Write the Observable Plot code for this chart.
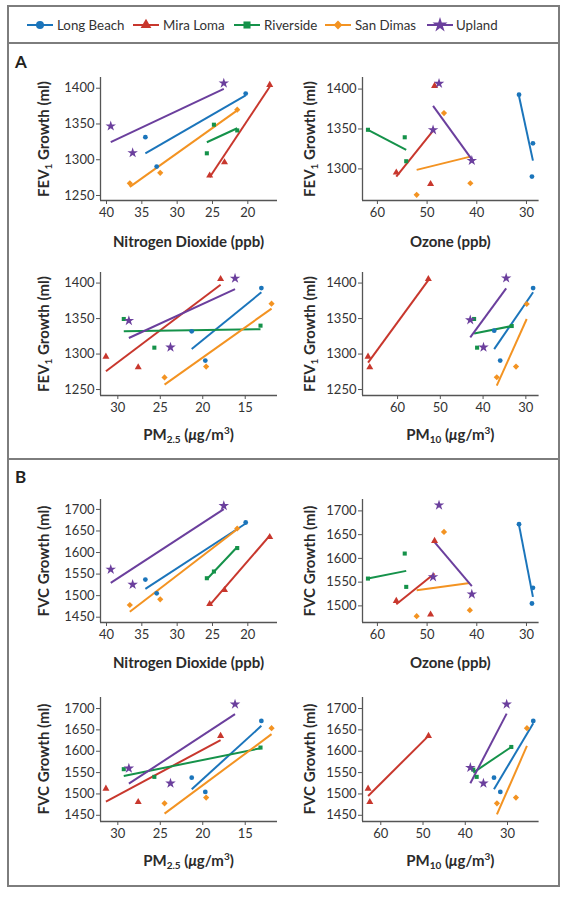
<!DOCTYPE html>
<html><head><meta charset="utf-8">
<script src="https://cdn.jsdelivr.net/npm/d3@7"></script>
<script src="https://cdn.jsdelivr.net/npm/@observablehq/plot@0.6"></script>
<style>
body{margin:0;background:#fff;}
#root{position:relative;width:569px;height:900px;font-family:Lato,sans-serif;color:#231f20;overflow:hidden;}
.frame{position:absolute;left:7px;top:5px;width:549px;height:878px;border:2px solid #7d7d7d;}
.hline{position:absolute;left:7px;width:553px;height:2px;background:#7d7d7d;}
.tag{position:absolute;font-weight:700;font-size:17px;}
.xt{position:absolute;font-weight:700;font-size:15px;white-space:nowrap;transform:translate(-50%,-50%);color:#2b2b2b;}
.yt{position:absolute;font-weight:700;font-size:15px;white-space:nowrap;transform:translate(-50%,-50%) rotate(-90deg);color:#2b2b2b;}
sub{font-size:10px;vertical-align:-3px;line-height:0;}
sup{font-size:10px;vertical-align:6px;line-height:0;}
.legsw{position:absolute;top:16px;}
.legtx{position:absolute;top:15px;font-size:13.3px;white-space:nowrap;line-height:20px;color:#333;}
</style></head><body><div id="root"></div>
<script>
const cities = ["Long Beach","Mira Loma","Riverside","San Dimas","Upland"];
const cityColors = ["#1b75bb","#c8372d","#15924a","#f39322","#6b3f9d"];
const citySymbols = ["circle","triangle","square","diamond2","star"];

const no2Ticks = [40,35,30,25,20];
const o3Ticks = [60,50,40,30];
const pm25Ticks = [30,25,20,15];
const pm10Ticks = [60,50,40,30];
const fevTicks = [1250,1300,1350,1400];
const fevTicksO3 = [1300,1350,1400];
const fvcTicks = [1450,1500,1550,1600,1650,1700];
const fvcTicksO3 = [1500,1550,1600,1650,1700];

// [city, x, y]
const fev_no2_pts = [
 ["Long Beach",34.5,1331.5],["Long Beach",32.9,1290.5],["Long Beach",20.3,1392.5],
 ["Mira Loma",25.4,1278],["Mira Loma",23.3,1296.6],["Mira Loma",16.9,1404.7],
 ["Riverside",25.8,1309],["Riverside",24.8,1349],["Riverside",21.5,1341],
 ["San Dimas",36.7,1267],["San Dimas",32.4,1281.7],["San Dimas",21.5,1370],
 ["Upland",39.4,1347],["Upland",36.3,1309.6],["Upland",23.4,1407]];
// [city, x1, y1, x2, y2]
const fev_no2_fit = [
 ["Long Beach",34.5,1309,20.3,1390],["Mira Loma",25.4,1275.6,16.9,1402],
 ["Riverside",25.8,1324.5,21.5,1344],["San Dimas",36.7,1262,21.5,1369],
 ["Upland",39.4,1324.5,23.4,1399]];

const fev_o3_pts = [
 ["Long Beach",31.5,1393],["Long Beach",28.7,1332],["Long Beach",28.9,1290.4],
 ["Mira Loma",56.2,1295.4],["Mira Loma",49.3,1281],["Mira Loma",48.5,1404],
 ["Riverside",61.9,1349],["Riverside",54.5,1339.6],["Riverside",54.2,1309.6],
 ["San Dimas",52.1,1267.5],["San Dimas",46.6,1370],["San Dimas",41.3,1282],
 ["Upland",47.6,1407],["Upland",48.8,1348.8],["Upland",41.0,1310.4]];
const fev_o3_fit = [
 ["Long Beach",31.5,1391,28.7,1310.4],["Mira Loma",56.2,1290.4,48.5,1350],
 ["Riverside",61.9,1349,54.2,1323.8],["San Dimas",52.1,1298.8,41.3,1315.4],
 ["Upland",48.8,1379,41.0,1312]];

const fev_pm25_pts = [
 ["Long Beach",21.3,1332],["Long Beach",19.7,1290.8],["Long Beach",13.1,1393],
 ["Mira Loma",31.4,1296.4],["Mira Loma",27.6,1281.4],["Mira Loma",17.9,1405.6],
 ["Riverside",29.3,1349.4],["Riverside",25.7,1309],["Riverside",13.2,1340],
 ["San Dimas",24.5,1267],["San Dimas",19.6,1282.3],["San Dimas",11.9,1371],
 ["Upland",28.7,1347],["Upland",23.8,1309.5],["Upland",16.2,1406.6]];
const fev_pm25_fit = [
 ["Long Beach",21.3,1307,13.1,1387],["Mira Loma",31.4,1275.8,17.9,1397.7],
 ["Riverside",29.3,1332,13.2,1335],["San Dimas",24.5,1257,11.9,1364],
 ["Upland",28.7,1322.6,16.2,1391.6]];

const fev_pm10_pts = [
 ["Long Beach",37.4,1333],["Long Beach",36.0,1290.8],["Long Beach",28.3,1393],
 ["Mira Loma",66.9,1296.4],["Mira Loma",66.5,1281.4],["Mira Loma",52.8,1405.6],
 ["Riverside",42.1,1349.4],["Riverside",41.4,1309],["Riverside",33.3,1339.5],
 ["San Dimas",36.8,1267.3],["San Dimas",32.3,1282.3],["San Dimas",29.8,1370.5],
 ["Upland",43.0,1348],["Upland",39.9,1309.5],["Upland",34.6,1407]];
const fev_pm10_fit = [
 ["Long Beach",37.4,1307,28.3,1387],["Mira Loma",66.9,1288,52.8,1404.2],
 ["Riverside",42.1,1329,33.3,1339.5],["San Dimas",36.8,1255.6,29.8,1349.4],
 ["Upland",43.0,1323.6,34.6,1392.5]];

const fvc_no2_pts = [
 ["Long Beach",34.5,1537.3],["Long Beach",32.9,1505.4],["Long Beach",20.3,1669.7],
 ["Mira Loma",25.4,1480.6],["Mira Loma",23.3,1513],["Mira Loma",16.9,1636],
 ["Riverside",25.8,1540.4],["Riverside",24.8,1556],["Riverside",21.5,1610.4],
 ["San Dimas",36.7,1478.3],["San Dimas",32.4,1491.4],["San Dimas",21.5,1655.7],
 ["Upland",39.4,1560.7],["Upland",36.3,1525.7],["Upland",23.4,1708.4]];
const fvc_no2_fit = [
 ["Long Beach",34.5,1515.6,20.3,1667.3],["Mira Loma",25.4,1478,16.9,1639],
 ["Riverside",25.8,1538,21.5,1612.7],["San Dimas",36.7,1462.7,21.5,1654],
 ["Upland",39.4,1529.6,23.4,1700.7]];

const fvc_o3_pts = [
 ["Long Beach",31.5,1672],["Long Beach",28.7,1538],["Long Beach",28.9,1505],
 ["Mira Loma",56.2,1510.5],["Mira Loma",49.3,1481.8],["Mira Loma",48.5,1636.8],
 ["Riverside",61.9,1557.5],["Riverside",54.5,1610.2],["Riverside",54.2,1540],
 ["San Dimas",52.1,1478.2],["San Dimas",46.6,1655.8],["San Dimas",41.4,1491],
 ["Upland",47.6,1712],["Upland",48.8,1561],["Upland",41.0,1524.6]];
const fvc_o3_fit = [
 ["Long Beach",31.5,1670,28.7,1519],["Mira Loma",56.2,1503.5,48.5,1568],
 ["Riverside",61.9,1557.5,54.2,1573.7],["San Dimas",52.1,1533,41.4,1548.4],
 ["Upland",48.8,1638,41.0,1541.4]];

const fvc_pm25_pts = [
 ["Long Beach",21.3,1538],["Long Beach",19.7,1504.7],["Long Beach",13.1,1671],
 ["Mira Loma",31.4,1512.5],["Mira Loma",27.6,1481.3],["Mira Loma",17.9,1636],
 ["Riverside",29.3,1558],["Riverside",25.7,1540],["Riverside",13.2,1608.6],
 ["San Dimas",24.5,1478],["San Dimas",19.6,1491.4],["San Dimas",11.9,1654],
 ["Upland",28.7,1560],["Upland",23.8,1525],["Upland",16.2,1710]];
const fvc_pm25_fit = [
 ["Long Beach",21.3,1511,13.1,1659.4],["Mira Loma",31.4,1482,17.9,1626],
 ["Riverside",29.3,1542,13.2,1607],["San Dimas",24.5,1454,11.9,1640],
 ["Upland",28.7,1524,16.2,1686.7]];

const fvc_pm10_pts = [
 ["Long Beach",33.2,1538],["Long Beach",31.7,1504.7],["Long Beach",23.9,1671],
 ["Mira Loma",63.0,1512.5],["Mira Loma",62.6,1481],["Mira Loma",48.7,1636],
 ["Riverside",38.1,1557],["Riverside",37.3,1540],["Riverside",29.1,1610],
 ["San Dimas",32.5,1478],["San Dimas",28.0,1491.4],["San Dimas",25.4,1654],
 ["Upland",38.8,1561.7],["Upland",35.7,1525],["Upland",30.2,1710]];
const fvc_pm10_fit = [
 ["Long Beach",33.2,1511,23.9,1665.6],["Mira Loma",63.0,1495.3,48.7,1636],
 ["Riverside",38.1,1550,29.1,1610],["San Dimas",32.5,1452,25.4,1612.5],
 ["Upland",38.8,1525,30.2,1688]];

const symR = [2.4,2.6,2.3,2.8,3.3];
const root = document.getElementById("root");

function el(cls, html, css){
  const d = document.createElement("div");
  d.className = cls; d.innerHTML = html; Object.assign(d.style, css||{});
  root.appendChild(d); return d;
}

// frame and dividers
el("frame","");
el("hline","",{top:"42px"});
el("hline","",{top:"458px"});
el("tag","A",{left:"15px",top:"51px"});
el("tag","B",{left:"15px",top:"466px"});

// legend
const legX = [27,133,234,325,427];
const legTX = [57,163,264,355,456];
const symMap = {circle:d3.symbolCircle,triangle:d3.symbolTriangle,square:d3.symbolSquare,diamond2:d3.symbolDiamond2,star:d3.symbolStar};
cities.forEach((c,i)=>{
  const size = i===4 ? 70 : 50;
  const p = d3.symbol(symMap[citySymbols[i]], size)();
  const svg = `<svg width="26" height="18"><line x1="0" x2="26" y1="9" y2="9" stroke="${cityColors[i]}" stroke-width="2"/><path d="${p}" transform="translate(13,9)" fill="${cityColors[i]}"/></svg>`;
  el("legsw", svg, {left: legX[i]+"px"});
  el("legtx", c, {left: legTX[i]+"px"});
});

function panel(o){
  const plotH = o.axisBottom - o.axisTop;
  const chart = Plot.plot({
    width: o.w, height: plotH + 10 + 24,
    marginLeft: o.ml, marginRight: o.w - o.ml - o.plotW, marginTop: 10, marginBottom: 24,
    style: {fontFamily: "Lato, sans-serif", fontSize: "13px", color: "#333", background: "transparent"},
    x: {domain: o.xDom, label: null},
    y: {domain: o.yDom, label: null},
    color: {domain: cities, range: cityColors},
    symbol: {domain: cities, range: citySymbols},
    marks: [
      Plot.ruleX([o.xDom[0]], {stroke: "#555", strokeWidth: 1.3}),
      Plot.ruleY([o.yDom[0]], {stroke: "#555", strokeWidth: 1.3}),
      Plot.axisX({ticks: o.xTicks, tickSize: 4, tickPadding: 3, stroke: "#555", label: null}),
      Plot.axisY({ticks: o.yTicks, tickSize: 4, tickPadding: 2, stroke: "#555", tickFormat: d3.format("d"), label: null}),
      Plot.link(o.fit, {x1: d=>d[1], y1: d=>d[2], x2: d=>d[3], y2: d=>d[4], stroke: d=>d[0], strokeWidth: 2}),
      ...cities.map((c,i)=>Plot.dot(o.pts.filter(d=>d[0]===c), {x: d=>d[1], y: d=>d[2], fill: d=>d[0], symbol: d=>d[0], r: symR[i]}))
    ]
  });
  chart.style.position = "absolute";
  chart.style.left = o.left + "px";
  chart.style.top = (o.axisTop - 10) + "px";
  root.appendChild(chart);
  el("xt", o.xTitle, {left: (o.left + o.ml + o.plotW/2) + "px", top: o.xTitleY + "px"});
  el("yt", o.yTitle, {left: o.yTitleX + "px", top: ((o.axisTop + o.axisBottom)/2) + "px"});
}

const L = {left:0, w:285, ml:100, plotW:177, yTitleX:43};
const R = {left:280, w:266, ml:82, plotW:176.6, yTitleX:309};
const FEV = "FEV<sub>1</sub> Growth (ml)";
const FVC = "FVC Growth (ml)";
const NO2 = "Nitrogen Dioxide (ppb)";
const O3 = "Ozone (ppb)";
const PM25 = "PM<sub>2.5</sub> (<i>μ</i>g/m<sup>3</sup>)";
const PM10 = "PM<sub>10</sub> (<i>μ</i>g/m<sup>3</sup>)";

panel({...L, axisTop:77, axisBottom:200, xDom:[40.85,15.8], xTicks:no2Ticks, yDom:[1243,1415], yTicks:fevTicks, pts:fev_no2_pts, fit:fev_no2_fit, xTitle:NO2, xTitleY:241, yTitle:FEV});
panel({...R, axisTop:77, axisBottom:200, xDom:[63.0,27.46], xTicks:o3Ticks, yDom:[1260.4,1414.5], yTicks:fevTicksO3, pts:fev_o3_pts, fit:fev_o3_fit, xTitle:O3, xTitleY:241, yTitle:FEV});
panel({...L, axisTop:272, axisBottom:395, xDom:[32.04,11.2], xTicks:pm25Ticks, yDom:[1241.6,1414.9], yTicks:fevTicks, pts:fev_pm25_pts, fit:fev_pm25_fit, xTitle:PM25, xTitleY:434, yTitle:FEV});
panel({...R, axisTop:272, axisBottom:395, xDom:[68.2,26.9], xTicks:pm10Ticks, yDom:[1241.6,1414.9], yTicks:fevTicks, pts:fev_pm10_pts, fit:fev_pm10_fit, xTitle:PM10, xTitleY:434, yTitle:FEV});

panel({...L, axisTop:499, axisBottom:622, xDom:[40.85,15.8], xTicks:no2Ticks, yDom:[1437.7,1723], yTicks:fvcTicks, pts:fvc_no2_pts, fit:fvc_no2_fit, xTitle:NO2, xTitleY:662, yTitle:FVC});
panel({...R, axisTop:499, axisBottom:622, xDom:[63.0,27.46], xTicks:o3Ticks, yDom:[1465,1724], yTicks:fvcTicksO3, pts:fvc_o3_pts, fit:fvc_o3_fit, xTitle:O3, xTitleY:662, yTitle:FVC});
panel({...L, axisTop:697, axisBottom:821, xDom:[32.04,11.2], xTicks:pm25Ticks, yDom:[1435.5,1725.8], yTicks:fvcTicks, pts:fvc_pm25_pts, fit:fvc_pm25_fit, xTitle:PM25, xTitleY:860, yTitle:FVC});
panel({...R, axisTop:697, axisBottom:821, xDom:[64.33,22.52], xTicks:pm10Ticks, yDom:[1435.5,1725.8], yTicks:fvcTicks, pts:fvc_pm10_pts, fit:fvc_pm10_fit, xTitle:PM10, xTitleY:860, yTitle:FVC});
</script></body></html>
